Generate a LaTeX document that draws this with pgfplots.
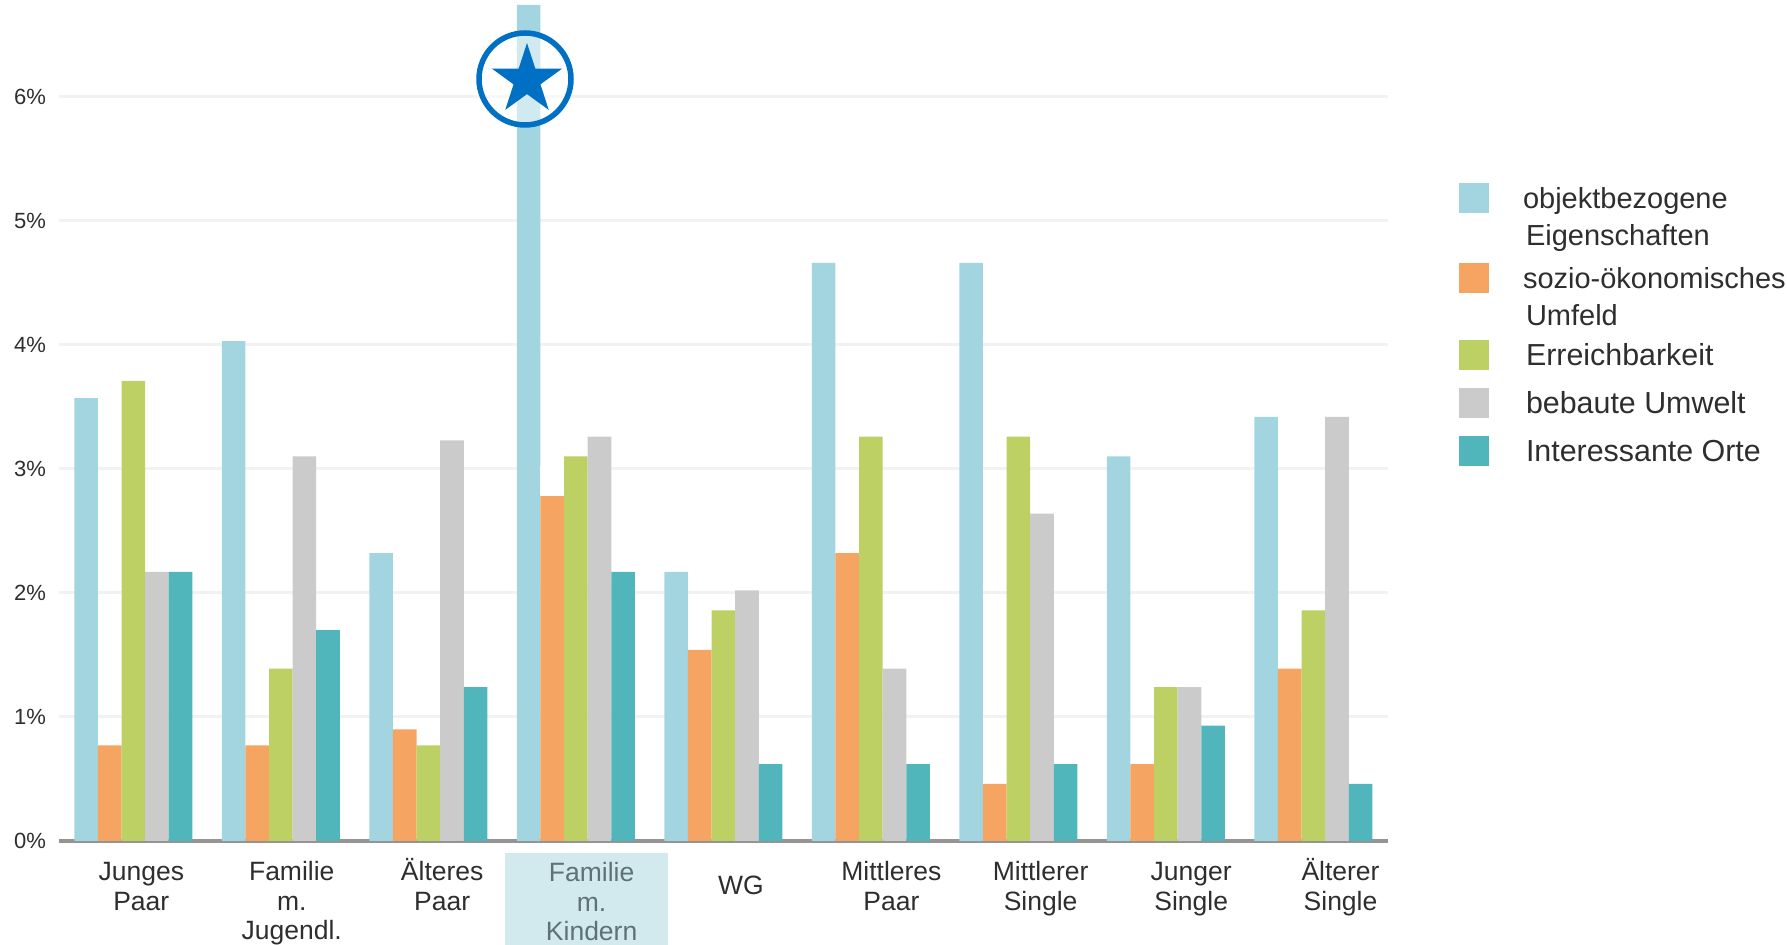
\documentclass[border=0pt]{standalone}
\usepackage{fontspec}
\setmainfont{Liberation Sans}
\usepackage{pgfplots}
\pgfplotsset{compat=1.18}
\usetikzlibrary{shapes.geometric}

\definecolor{cObj}{HTML}{A2D5E0}
\definecolor{cSoz}{HTML}{F5A462}
\definecolor{cErr}{HTML}{BDD063}
\definecolor{cBeb}{HTML}{CBCBCB}
\definecolor{cOrt}{HTML}{51B6BC}
\definecolor{cTxt}{HTML}{2E2E2E}
\definecolor{cHi}{HTML}{D2E9EE}
\definecolor{cHiTxt}{HTML}{5C7278}
\definecolor{cStar}{HTML}{0070C4}

% legend text: second line hung below the first, row height comes from the swatch
\newcommand{\oneline}[1]{\hspace{16.5pt}{\fontsize{15.2}{18}\selectfont #1}}
\newcommand{\twolines}[2]{\hspace{15pt}\makebox[0pt][l]{\raisebox{-18.5pt}[0pt][0pt]{\hspace{1.5pt}#2}}#1}
% tick labels: same top for every first line, umlaut or not
\newcommand{\fl}[2][12pt]{\rule{0pt}{#1}#2}

\pgfplotsset{swatch/.style={legend image code/.code={%
  \path[fill=none,draw=none] (0pt,14pt) rectangle (0pt,-#1);
  \fill[##1,draw=none] (0pt,-2.5pt) rectangle (15pt,12.5pt);}}}

\begin{document}
\begin{tikzpicture}
\useasboundingbox (-29.5pt,-52pt) rectangle (864pt,420.5pt);
\fill[cHi] (223pt,-6pt) rectangle (304.5pt,-52pt);
\begin{axis}[
  scale only axis, width=664.5pt, height=418pt,
  ybar=0pt, bar width=11.8pt,
  xmin=-0.504, xmax=8.506, ymin=0, ymax=6.74,
  axis line style={draw=none}, tick style={draw=none},
  ytick={1,2,3,4,5,6},
  extra y ticks={0},
  extra y tick style={grid style={draw=black!42,line width=2pt}},
  yticklabel={\pgfmathprintnumber{\tick}\%},
  ymajorgrids, grid style={draw=black!5,line width=1.5pt},
  /pgf/number format/assume math mode=true,
  y tick label style={font=\fontsize{11}{13}\selectfont, text=cTxt, xshift=-3pt},
  xtick={0.054,1.074,2.094,3.107,4.119,5.139,6.151,7.172,8.184},
  xticklabels={{\fl{Junges}\\Paar},{\fl{Familie}\\m.\\Jugendl.},{\fl{Älteres}\\Paar},
    {\fl[12.6pt]{\textcolor{cHiTxt}{Familie}}\\\textcolor{cHiTxt}{m.}\\\textcolor{cHiTxt}{Kindern}},
    {\fl[19pt]{WG}},{\fl{Mittleres}\\Paar},{\fl{Mittlerer}\\Single},{\fl{Junger}\\Single},{\fl{Älterer}\\Single}},
  x tick label style={font=\fontsize{13.25}{14.75}\selectfont, text=cTxt, align=center, anchor=north, yshift=0pt},
  legend style={draw=none, fill=none, inner sep=0pt, outer sep=0pt,
    at={(axis description cs:1.0534,0.7903)}, anchor=north west,
    row sep=0pt, column sep=0pt,
    font=\fontsize{14.5}{18.5}\selectfont, text=cTxt,
    cells={anchor=base west, inner sep=0pt, outer sep=0pt}},
]
\addplot[fill=cObj,draw=none,swatch=26pt] coordinates {(0,3.57)(1,4.03)(2,2.32)(3,6.74)(4,2.17)(5,4.66)(6,4.66)(7,3.10)(8,3.42)};
\addlegendentry{\twolines{objektbezogene}{Eigenschaften}}
\addplot[fill=cSoz,draw=none,swatch=24.5pt] coordinates {(0,0.77)(1,0.77)(2,0.90)(3,2.78)(4,1.54)(5,2.32)(6,0.46)(7,0.62)(8,1.39)};
\addlegendentry{\twolines{sozio-ökonomisches}{Umfeld}}
\addplot[fill=cErr,draw=none,swatch=10pt] coordinates {(0,3.71)(1,1.39)(2,0.77)(3,3.10)(4,1.86)(5,3.26)(6,3.26)(7,1.24)(8,1.86)};
\addlegendentry{\oneline{Erreichbarkeit}}
\addplot[fill=cBeb,draw=none,swatch=10pt] coordinates {(0,2.17)(1,3.10)(2,3.23)(3,3.26)(4,2.02)(5,1.39)(6,2.64)(7,1.24)(8,3.42)};
\addlegendentry{\oneline{bebaute Umwelt}}
\addplot[fill=cOrt,draw=none,swatch=10pt] coordinates {(0,2.17)(1,1.70)(2,1.24)(3,2.17)(4,0.62)(5,0.62)(6,0.62)(7,0.93)(8,0.46)};
\addlegendentry{\oneline{Interessante Orte}}
\fill[white] (axis cs:2.76,2.79) rectangle (axis cs:2.92,3.02);
\end{axis}
\fill[white,opacity=0.5] (233pt,381pt) circle (23pt);
\draw[cStar,line width=2.75pt] (233pt,381pt) circle (23pt);
\node[star,star points=5,star point ratio=2.618,fill=cStar,draw=none,inner sep=0pt,minimum size=37pt] at (234pt,380.5pt) {};
\end{tikzpicture}
\end{document}
